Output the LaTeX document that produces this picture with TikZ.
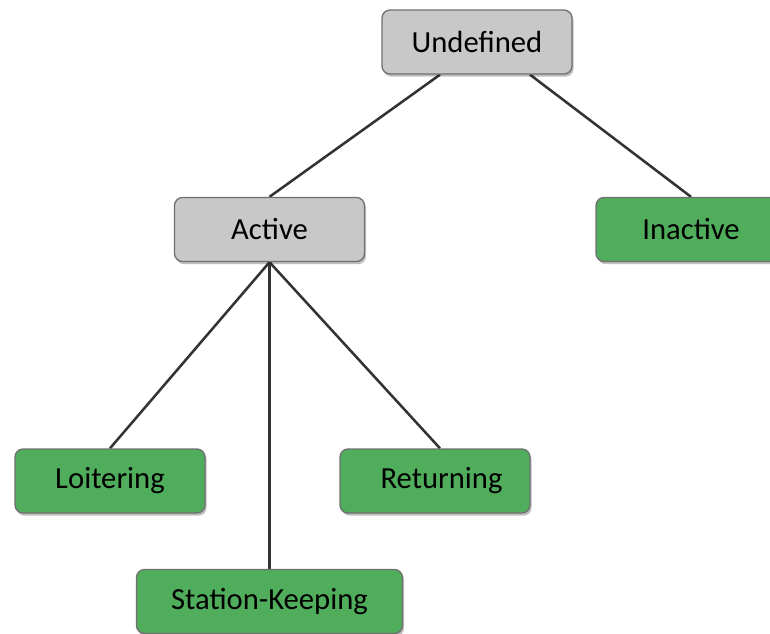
\documentclass[tikz,border=0pt]{standalone}
\usepackage{fontspec}
\setmainfont{Carlito}
\usetikzlibrary{shadows,backgrounds}
\definecolor{boxgray}{HTML}{C8C8C8}
\definecolor{boxgreen}{HTML}{4FAD5C}
\definecolor{boxedge}{HTML}{707070}
\definecolor{linkcol}{HTML}{333333}
\tikzset{
  state/.style={draw=boxedge, line width=1pt, rounded corners=6pt,
    minimum width=142.5pt, minimum height=48pt, inner sep=0pt,
    font=\fontsize{23}{28}\selectfont,
    drop shadow={shadow xshift=1.2pt, shadow yshift=-2pt, opacity=0.25, fill=black}},
  parent/.style={state, fill=boxgray},
  leaf/.style={state, fill=boxgreen},
  link/.style={draw=linkcol, line width=1.9pt}
}
\begin{document}
\begin{tikzpicture}[x=0.75pt, y=-0.75pt]
  \useasboundingbox (0,0) rectangle (770,633);
  \node[parent] (undef)    at (477,42)  {Undefined};
  \node[parent] (active)   at (269.5,229.5) {Active};
  \node[leaf]   (inactive) at (691,229.5) {Inactive};
  \node[leaf]   (loiter)   at (110,481) {Loitering};
  \node[leaf]   (return)   at (435,481) {\hspace*{9.75pt}Returning};
  \node[leaf, minimum width=199.5pt] (station) at (269.5,601.5) {Station-Keeping};
  \begin{scope}[on background layer]
    \draw[link] ([xshift=-27.75pt]undef.south) -- (active.north);
    \draw[link] ([xshift=39.75pt]undef.south) -- (inactive.north);
    \draw[link] (active.south) -- (loiter.north);
    \draw[link] (active.south) -- (station.north);
    \draw[link] (active.south) -- ([xshift=3.75pt]return.north);
  \end{scope}
\end{tikzpicture}
\end{document}
